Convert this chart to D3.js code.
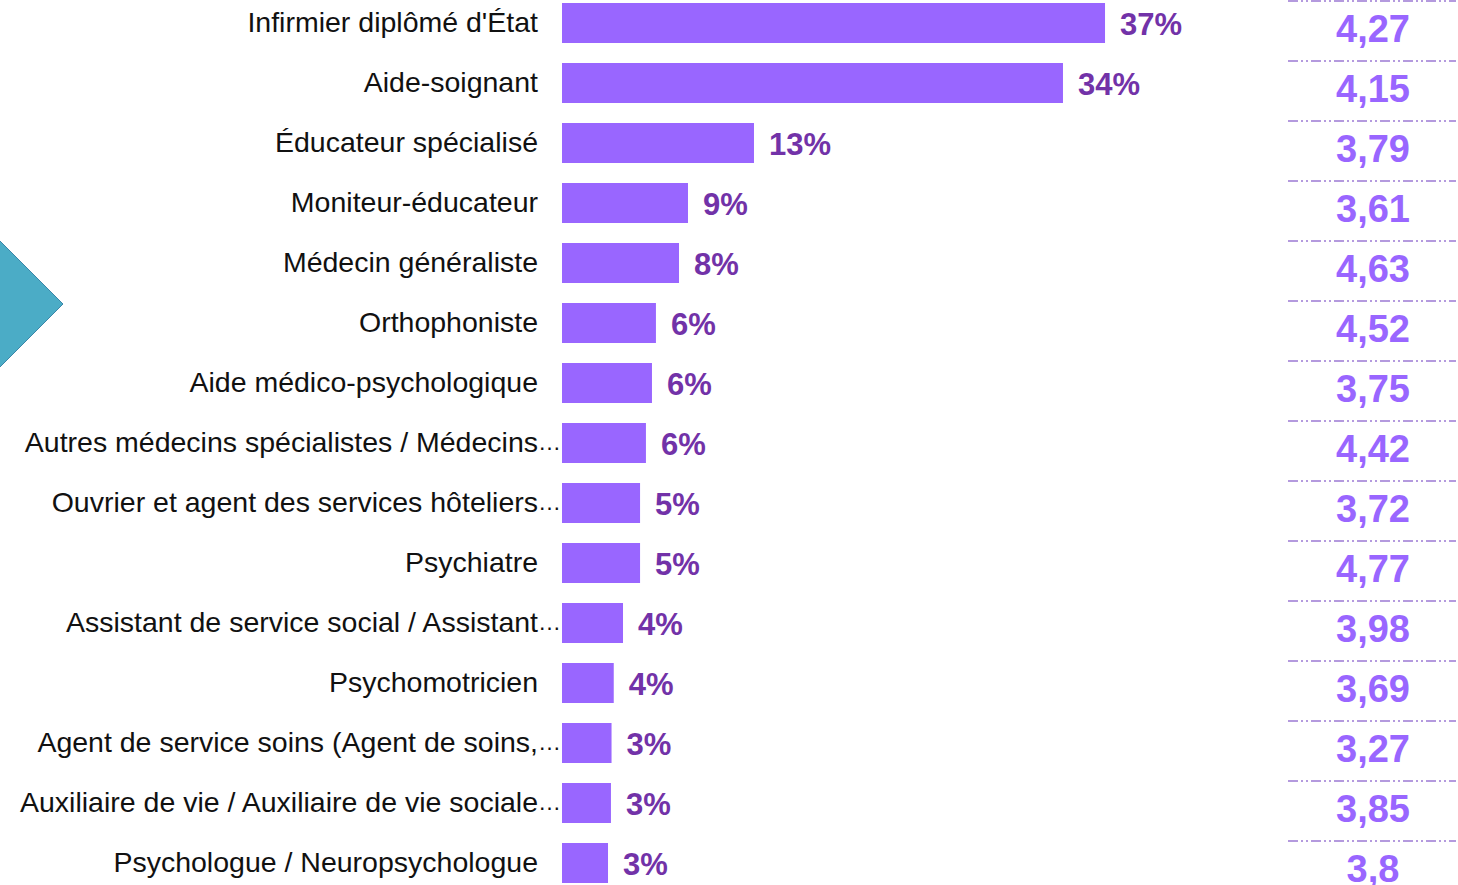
<!DOCTYPE html>
<html lang="fr">
<head>
<meta charset="utf-8">
<script src="https://cdn.jsdelivr.net/npm/d3@7"></script>
<style>
  html, body { margin: 0; padding: 0; background: #fff; }
  svg { display: block; }
</style>
</head>
<body>
<svg id="chart" width="1458" height="885"></svg>
<script>
// Professions (labels truncated with an ellipsis as in the source layout)
const categories = [
  "Infirmier diplômé  d'État",
  "Aide-soignant",
  "Éducateur spécialisé",
  "Moniteur-éducateur",
  "Médecin généraliste",
  "Orthophoniste",
  "Aide médico-psychologique",
  "Autres médecins spécialistes / Médecins…",
  "Ouvrier et agent des services hôteliers…",
  "Psychiatre",
  "Assistant de service social / Assistant…",
  "Psychomotricien",
  "Agent de service soins (Agent de soins,…",
  "Auxiliaire de vie / Auxiliaire de vie sociale…",
  "Psychologue / Neuropsychologue"
];

// Share of respondents per profession (%)
const shares = [36.94, 34.08, 13.06, 8.57, 7.96, 6.39, 6.12, 5.71, 5.31, 5.31, 4.15, 3.52, 3.37, 3.33, 3.13];

// Average score per profession
const scores = [4.27, 4.15, 3.79, 3.61, 4.63, 4.52, 3.75, 4.42, 3.72, 4.77, 3.98, 3.69, 3.27, 3.85, 3.8];

const svg = d3.select("#chart");

const y = d3.scaleBand()
  .domain(categories)
  .range([-7, 893])
  .paddingInner(1 / 3)
  .paddingOuter(1 / 6);

const x = d3.scaleLinear()
  .domain([0, 40])
  .range([562, 1150]);

const fmtPct = v => Math.round(v) + "%";
const fmtScore = v => String(v).replace(".", ",");

// Teal chevron on the left edge
svg.append("path")
  .attr("d", "M-4,237 L63,304 L-4,371 Z")
  .attr("fill", "#4bacc6")
  .attr("stroke", "#3b86a8")
  .attr("stroke-width", 1);

const rows = svg.append("g")
  .selectAll("g")
  .data(categories.map((c, i) => ({ c, v: shares[i], s: scores[i] })))
  .join("g");

// Category labels; a trailing ellipsis is set smaller and runs up to the bar
rows.each(function (d) {
  const truncated = d.c.endsWith("…");
  const label = d3.select(this).append("text")
    .attr("x", truncated ? 561 : 538)
    .attr("y", y(d.c) + y.bandwidth() / 2 - 1.5)
    .attr("text-anchor", "end")
    .attr("dominant-baseline", "central")
    .attr("font-family", "'Liberation Sans', Arial, sans-serif")
    .attr("font-size", 28.5)
    .attr("fill", "#111");
  label.append("tspan").text(truncated ? d.c.slice(0, -1) : d.c);
  if (truncated) {
    label.append("tspan").attr("font-size", 23).text("…");
  }
});

// Bars
rows.append("rect")
  .attr("x", x(0))
  .attr("y", d => y(d.c))
  .attr("width", d => x(d.v) - x(0))
  .attr("height", y.bandwidth())
  .attr("fill", "#9966ff");

// Percentage labels
rows.append("text")
  .attr("x", d => x(d.v) + 15)
  .attr("y", d => y(d.c) + y.bandwidth() / 2 + 1.5)
  .attr("dominant-baseline", "central")
  .attr("font-family", "'Liberation Sans', Arial, sans-serif")
  .attr("font-weight", "bold")
  .attr("font-size", 31)
  .attr("fill", "#7232a8")
  .text(d => fmtPct(d.v));

// Separator lines of the score column
rows.append("line")
  .attr("x1", 1288)
  .attr("x2", 1456)
  .attr("y1", d => y(d.c) - 2)
  .attr("y2", d => y(d.c) - 2)
  .attr("stroke", "#b49ade")
  .attr("stroke-width", 2)
  .attr("stroke-dasharray", "10,3,2,3,2,3");

// Average scores
rows.append("text")
  .attr("x", 1373)
  .attr("y", d => y(d.c) + y.bandwidth() / 2 + 6)
  .attr("text-anchor", "middle")
  .attr("dominant-baseline", "central")
  .attr("font-family", "'Liberation Sans', Arial, sans-serif")
  .attr("font-weight", "bold")
  .attr("font-size", 38)
  .attr("fill", "#9966ff")
  .text(d => fmtScore(d.s));
</script>
</body>
</html>
